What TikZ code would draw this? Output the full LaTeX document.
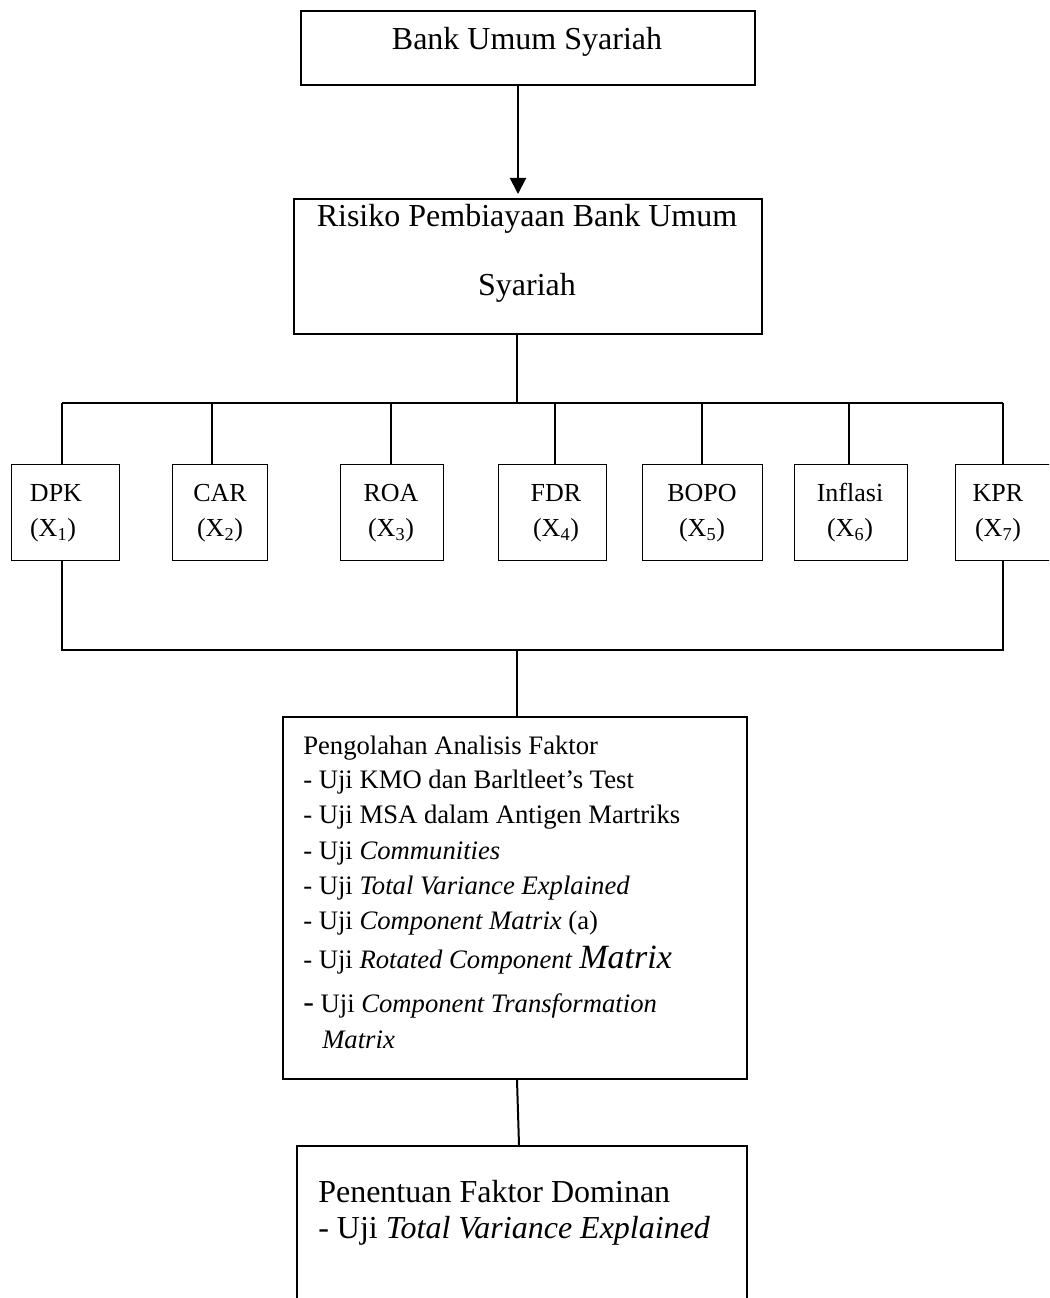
\documentclass[tikz,border=0pt]{standalone}
\usepackage{fontspec}
\setmainfont{Liberation Serif}
\usetikzlibrary{fit,arrows.meta}
\tikzset{
  bigbox/.style={draw, line width=1.5pt, inner sep=0pt},
  smallbox/.style={draw, line width=0.75pt, inner sep=0pt},
  conn/.style={line width=1.5pt},
  bigtxt/.style={inner sep=0pt, anchor=base, font=\fontsize{24}{28}\selectfont},
  bigtxtl/.style={inner sep=0pt, anchor=base west, font=\fontsize{24}{28}\selectfont},
  midtxt/.style={inner sep=0pt, anchor=base west, font=\fontsize{20}{24}\selectfont},
  smtxt/.style={inner sep=0pt, anchor=base, font=\fontsize{19.5}{23}\selectfont},
}
\begin{document}
\begin{tikzpicture}[x=0.75pt, y=-0.75pt]
\useasboundingbox (0,0) rectangle (1049,1298);
\clip (0,0) rectangle (1049,1298);

% top box
\node[bigbox, fit={(301,11)(755,85)}] (b1) {};
\node[bigtxt] (b1t) at (527,50) {Bank Umum Syariah};

% second box
\node[bigbox, fit={(294,199)(762,334)}] (b2) {};
\node[bigtxt] (b2t1) at (527,227) {Risiko Pembiayaan Bank Umum};
\node[bigtxt] (b2t2) at (527,295) {Syariah};

% arrow
\coordinate (ax) at (518,0);
\draw[conn, -{Triangle[length=12pt, width=12pt]}, shorten >=3pt] (b1.south -| ax) -- (b2.north -| ax);

% small boxes
\foreach \i/\l/\r/\cx/\cxb/\name in {1/11/119/56/53/DPK, 2/172/267/220/220/CAR, 3/340/443/391/391/ROA, 4/498/606/556/556/FDR, 5/642/762/702/702/BOPO, 6/794/907/850/850/Inflasi, 7/955/1058/998/998/KPR}{
  \node[smallbox, fit={(\l,464)(\r,560)}] (s\i) {};
  \node[smtxt] (s\i a) at (\cx,501) {\name};
  \node[smtxt] (s\i b) at (\cxb,536) {(X\textsubscript{\i})};
}

% top bus
\coordinate (t) at (517,403);
\coordinate (d1) at (62,403);
\coordinate (d2) at (212,403);
\coordinate (d3) at (391,403);
\coordinate (d4) at (555,403);
\coordinate (d5) at (702,403);
\coordinate (d6) at (849,403);
\coordinate (d7) at (1003,403);
\draw[conn] (b2.south -| t) -- (t);
\draw[conn] (d1) -- (d7);
\foreach \i in {1,...,7}{
  \draw[conn] (d\i) -- (d\i |- s\i.north);
}

% bottom bus
\coordinate (bb) at (517,650);
\draw[conn] (d1 |- s1.south) -- (d1 |- bb) -- (d7 |- bb) -- (d7 |- s7.south);

% third box
\node[bigbox, fit={(283,717)(747,1079)}] (b3) {};
\draw[conn] (bb) -- (bb |- b3.north);
\node[midtxt] (l1) at (303,754) {Pengolahan Analisis Faktor};
\node[midtxt] (l2) at (303,788) {- Uji KMO dan Barltleet’s Test};
\node[midtxt] (l3) at (303,823) {- Uji MSA dalam Antigen Martriks};
\node[midtxt] (l4) at (303,859) {- Uji \textit{Communities}};
\node[midtxt] (l5) at (303,894) {- Uji \textit{Total Variance Explained}};
\node[midtxt] (l6) at (303,929) {- Uji \textit{Component Matrix} (a)};
\node[midtxt] (l7) at (303,968) {- Uji \textit{Rotated Component} {\fontsize{25.5}{26}\selectfont\textit{Matrix}}};
\node[midtxt] (l8) at (303,1012) {{\fontsize{24}{24}\selectfont -} Uji \textit{Component Transformation}};
\node[midtxt] (l9) at (322,1048) {\textit{Matrix}};

% fourth box
\coordinate (e) at (519,0);
\node[bigbox, fit={(297,1146)(747,1330)}] (b4) {};
\draw[conn] (b3.south -| bb) -- (b4.north -| e);
\node[bigtxtl] (p1) at (318,1202) {Penentuan Faktor Dominan};
\node[bigtxtl] (p2) at (318,1238) {- Uji \textit{Total Variance Explained}};
\end{tikzpicture}
\end{document}
